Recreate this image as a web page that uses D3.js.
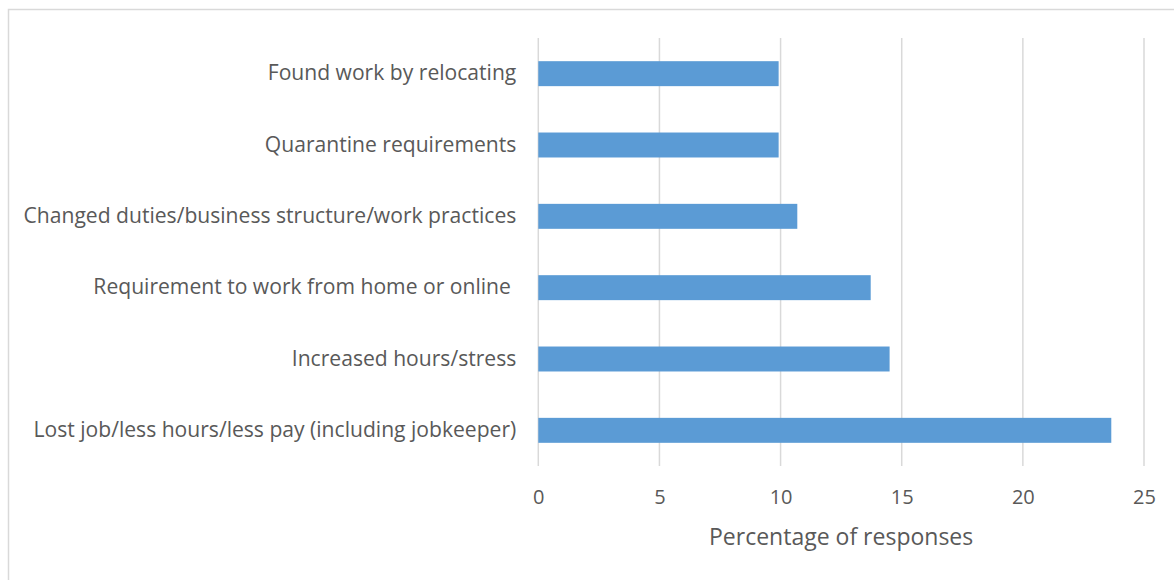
<!DOCTYPE html>
<html>
<head>
<meta charset="utf-8">
<script src="https://cdn.jsdelivr.net/npm/d3@7/dist/d3.min.js"></script>
<style>
  html, body { margin: 0; padding: 0; background: #fff; }
  svg text { font-family: "Open Sans", sans-serif; fill: #595959; white-space: pre; }
</style>
</head>
<body>
<svg id="chart" width="1174" height="580"></svg>
<script>
// Reasons for work changes, listed top to bottom
const categories = [
  "Found work by relocating",
  "Quarantine requirements",
  "Changed duties/business structure/work practices",
  "Requirement to work from home or online ",
  "Increased hours/stress",
  "Lost job/less hours/less pay (including jobkeeper)"
];
const values = [9.92, 9.92, 10.69, 13.72, 14.5, 23.65];
const xTicks = [0, 5, 10, 15, 20, 25];
const xTitle = "Percentage of responses";

const svg = d3.select("#chart");
const W = 1174, H = 580;

// Chart frame
svg.append("rect")
  .attr("x", 8.5).attr("y", 9.5)
  .attr("width", W + 10).attr("height", H + 10)
  .attr("fill", "#fff").attr("stroke", "#D9D9D9").attr("stroke-width", 1.5);

const plot = { left: 538.3, right: 1144, top: 38, bottom: 466 };

const x = d3.scaleLinear().domain([0, 25]).range([plot.left, plot.right]);
const y = d3.scaleBand().domain(categories).range([plot.top, plot.bottom]).paddingInner(0.65).paddingOuter(0.325);

// Vertical gridlines
svg.append("g")
  .selectAll("line")
  .data(xTicks)
  .join("line")
  .attr("x1", d => x(d)).attr("x2", d => x(d))
  .attr("y1", plot.top).attr("y2", plot.bottom)
  .attr("stroke", "#D9D9D9").attr("stroke-width", 1.5);

// Bars
svg.append("g")
  .selectAll("rect")
  .data(values)
  .join("rect")
  .attr("x", x(0))
  .attr("y", (d, i) => y(categories[i]))
  .attr("width", d => x(d) - x(0))
  .attr("height", y.bandwidth())
  .attr("fill", "#5B9BD5");

// Category labels
const yAxis = d3.axisLeft(y).tickSize(0).tickPadding(22);
const gy = svg.append("g").attr("transform", `translate(${plot.left},0)`).call(yAxis);
gy.select(".domain").remove();
gy.selectAll("text")
  .attr("font-size", 21.1)
  .style("font-family", "'Open Sans', sans-serif")
  .attr("fill", "#595959");

// Value axis
const xAxis = d3.axisBottom(x).tickValues(xTicks).tickSize(0).tickPadding(24);
const gx = svg.append("g").attr("transform", `translate(0,${plot.bottom})`).call(xAxis);
gx.select(".domain").remove();
gx.selectAll("text")
  .attr("font-size", 20)
  .style("font-family", "'Open Sans', sans-serif")
  .attr("fill", "#595959");

// Axis title
svg.append("text")
  .attr("x", (plot.left + plot.right) / 2)
  .attr("y", 545)
  .attr("text-anchor", "middle")
  .attr("font-size", 23)
  .text(xTitle);
</script>
</body>
</html>
